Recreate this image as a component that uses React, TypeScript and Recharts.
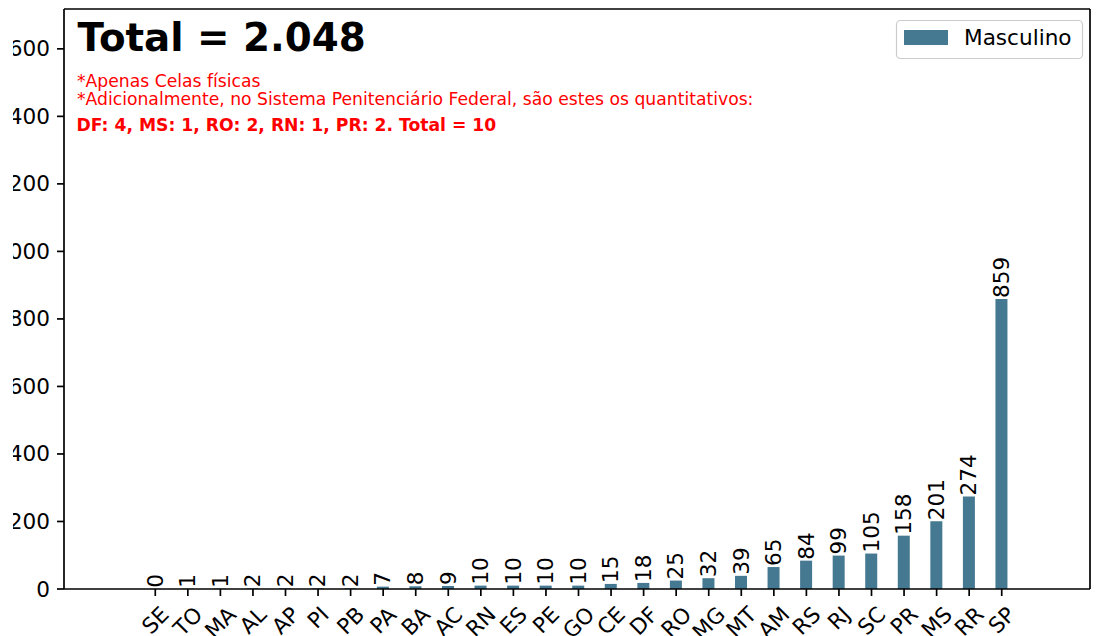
import React from "react";
import { BarChart, Bar, XAxis, YAxis, LabelList, CartesianGrid } from "recharts";

const states = ["SE","TO","MA","AL","AP","PI","PB","PA","BA","AC","RN","ES","PE","GO","CE","DF","RO","MG","MT","AM","RS","RJ","SC","PR","MS","RR","SP"];
const masculino = [0,1,1,2,2,2,2,7,8,9,10,10,10,10,15,18,25,32,39,65,84,99,105,158,201,274,859];
const yTicks = [0,200,400,600,800,1000,1200,1400,1600];
const seriesName = "Masculino";
const titleText = "Total = 2.048";
const noteLines = ["*Apenas Celas físicas", "*Adicionalmente, no Sistema Penitenciário Federal, são estes os quantitativos:"];
const noteBold = "DF: 4, MS: 1, RO: 2, RN: 1, PR: 2. Total = 10";

const data = states.map((s, i) => ({ uf: s, Masculino: masculino[i] }));

const FONT = "'DejaVu Sans', sans-serif";
const FS = 21.6;
const BAR = "#457891";

const CW: Record<string, number> = { A: .684, B: .686, C: .698, D: .770, E: .632, F: .575, G: .775, I: .295, J: .295, L: .557, M: .863, N: .748, O: .787, P: .603, R: .695, S: .635, T: .611 };

const XTick = (props: any) => {
  const { x, y, payload } = props;
  const label = String(payload.value);
  let w = 0;
  for (const c of label) w += (CW[c] ?? 0.65) * FS;
  const H = (w + FS * 1.0) * 0.7071;
  return (
    <text transform={`translate(${x},${y + H / 2}) rotate(-45)`} textAnchor="middle" dominantBaseline="central" fontSize={FS} fontFamily={FONT} fill="#000">
      {label}
    </text>
  );
};

const YTick = (props: any) => {
  const { x, y, payload } = props;
  return (
    <text x={x} y={y} textAnchor="end" dominantBaseline="central" fontSize={FS} fontFamily={FONT} fill="#000">
      {payload.value}
    </text>
  );
};

const ValueLabel = (props: any) => {
  const { x, y, width, value } = props;
  const cx = Number(x) + Number(width) / 2;
  return (
    <text transform={`translate(${cx},${Number(y) - 1}) rotate(-90)`} textAnchor="start" dominantBaseline="central" fontSize={FS} fontFamily={FONT} fill="#000">
      {String(value)}
    </text>
  );
};

export default function App() {
  return (
    <div>
      <div style={{ position: "absolute", left: 13, top: 0, width: 1083, height: 636, overflow: "hidden", background: "#fff" }}>
        <BarChart width={1083} height={636} data={data} margin={{ top: 9, right: 6, bottom: 0, left: 0 }}>
          <CartesianGrid
            stroke="#000"
            strokeWidth={1.7}
            horizontalCoordinatesGenerator={(p: any) => [p.offset.top]}
            verticalCoordinatesGenerator={(p: any) => [p.offset.left + p.offset.width]}
          />
          <XAxis
            dataKey="uf"
            interval={0}
            height={47}
            padding={{ left: 75, right: 72 }}
            tickSize={7}
            tickMargin={7}
            tick={<XTick />}
            axisLine={{ stroke: "#000", strokeWidth: 1.7 }}
            tickLine={{ stroke: "#000", strokeWidth: 1.7 }}
          />
          <YAxis
            width={51}
            domain={[0, 1718]}
            ticks={yTicks}
            interval={0}
            tickSize={7}
            tickMargin={7}
            tick={<YTick />}
            axisLine={{ stroke: "#000", strokeWidth: 1.7 }}
            tickLine={{ stroke: "#000", strokeWidth: 1.7 }}
          />
          <Bar dataKey="Masculino" name={seriesName} fill={BAR} barSize={12} minPointSize={0.2} isAnimationActive={false}>
            <LabelList dataKey="Masculino" content={<ValueLabel />} />
          </Bar>
        </BarChart>
      </div>
      <svg width={1096} height={636} style={{ position: "absolute", left: 0, top: 0, pointerEvents: "none" }}>
        <text x={77.6} y={51} fontSize={38.8} fontWeight="bold" fontFamily={FONT} fill="#000">{titleText}</text>
        <text x={77} y={87} fontSize={17.2} fontFamily={FONT} fill="#ff0000">{noteLines[0]}</text>
        <text x={77} y={104.5} fontSize={17.2} fontFamily={FONT} fill="#ff0000">{noteLines[1]}</text>
        <text x={76.5} y={131} fontSize={17.2} fontWeight="bold" fontFamily={FONT} fill="#ff0000">{noteBold}</text>
        <g>
          <rect x={896.5} y={20.5} width={186} height={38} rx={4} ry={4} fill="#fff" fillOpacity={0.8} stroke="#cccccc" strokeWidth={1.2} />
          <rect x={904} y={30} width={44} height={15} fill={BAR} />
          <text x={964} y={45} fontSize={FS} fontFamily={FONT} fill="#000">{seriesName}</text>
        </g>
      </svg>
    </div>
  );
}
